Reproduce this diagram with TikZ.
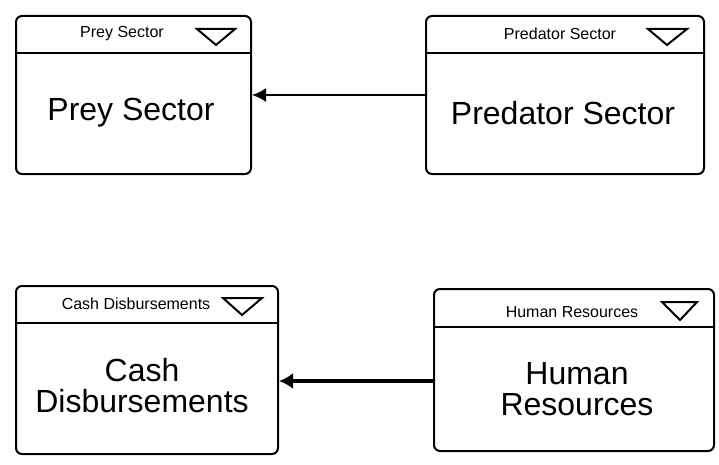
\documentclass[tikz,border=0pt]{standalone}
\usepackage{fontspec}
\setmainfont{Liberation Sans}
\usetikzlibrary{arrows.meta}
\tikzset{
  sector/.style={draw, line width=2pt, rounded corners=6pt, inner sep=0pt, anchor=north west},
  hline/.style={line width=2pt},
  head/.style={font=\fontsize{16}{18}\selectfont, inner sep=0pt},
  big/.style={font=\fontsize{32}{31}\selectfont, align=center, inner sep=0pt},
  tri/.style={line width=2pt, line join=miter},
  link/.style={line width=2pt, -{Latex[length=14pt,width=14pt]}},
  flink/.style={line width=4pt, -{Latex[length=14pt,width=16pt]}}
}
\begin{document}
\begin{tikzpicture}[x=1pt,y=-1pt]
\useasboundingbox (0,0) rectangle (719,465);
% Prey
\node[sector, minimum width=235pt, minimum height=158pt] (prey) at (15,15) {};
\draw[hline] ([yshift=-38pt]prey.north west) -- ([yshift=-38pt]prey.north east);
\node[head] (preyh) at (122,34) {Prey Sector};
\draw[tri] (197,29) -- (235,29) -- (216,45) -- cycle;
\node[big] (preyl) at (131,113) {Prey Sector};
% Predator
\node[sector, minimum width=278pt, minimum height=158pt] (pred) at (425,15) {};
\draw[hline] ([yshift=-38pt]pred.north west) -- ([yshift=-38pt]pred.north east);
\node[head] (predh) at (560,34) {Predator Sector};
\draw[tri] (648,29) -- (687,29) -- (667,45) -- cycle;
\node[big] (predl) at (563,113) {Predator Sector};
% Cash
\node[sector, minimum width=262pt, minimum height=168pt] (cash) at (15,285) {};
\draw[hline] ([yshift=-38pt]cash.north west) -- ([yshift=-38pt]cash.north east);
\node[head] (cashh) at (136,304) {Cash Disbursements};
\draw[tri] (223,298) -- (262,298) -- (242,315) -- cycle;
\node[big] (cashl) at (142,386) {Cash\\Disbursements};
% Human
\node[sector, minimum width=280pt, minimum height=162pt] (human) at (433,288) {};
\draw[hline] ([yshift=-39pt]human.north west) -- ([yshift=-39pt]human.north east);
\node[head] (humanh) at (572,312) {Human Resources};
\draw[tri] (662,302) -- (697,302) -- (680,320) -- cycle;
\node[big] (humanl) at (577,389) {Human\\Resources};
% connectors
\draw[link] (pred.west) -- (prey.east);
\draw[flink] ([yshift=-11pt]human.west) -- ([yshift=-11pt]cash.east);
\end{tikzpicture}
\end{document}
